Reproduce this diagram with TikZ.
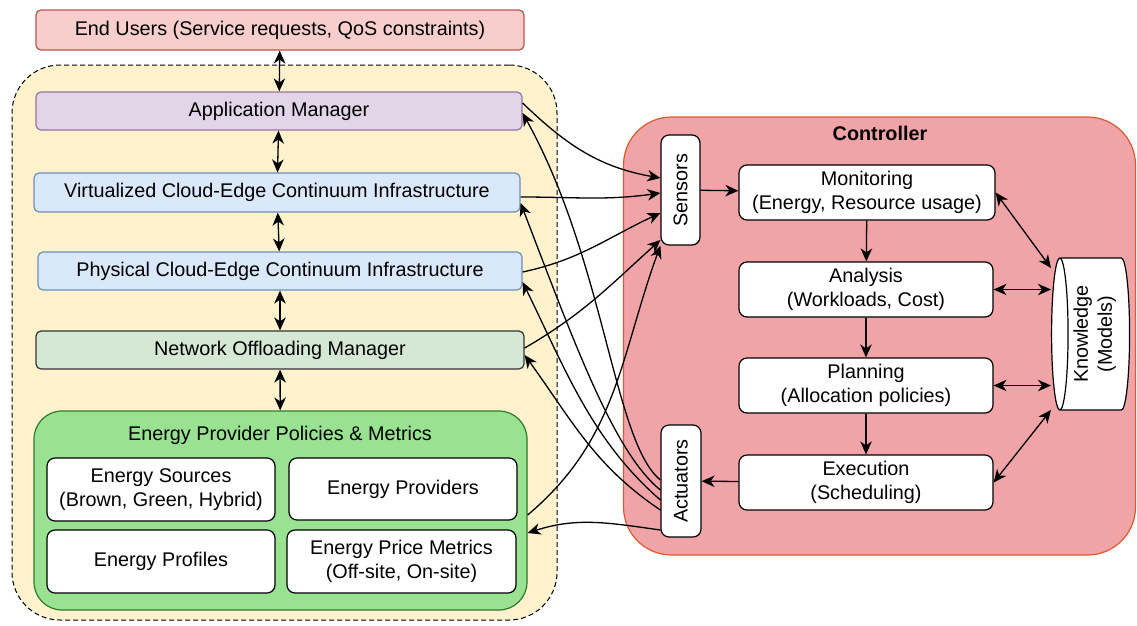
\documentclass[tikz,border=0pt]{standalone}
\usepackage{fontspec}
\setmainfont{Liberation Sans}
\usepackage{graphicx}
\usetikzlibrary{arrows.meta,shapes.geometric}
\definecolor{usrfill}{HTML}{F8CECC}
\definecolor{usrline}{HTML}{B85450}
\definecolor{appfill}{HTML}{E1D5E7}
\definecolor{appline}{HTML}{9673A6}
\definecolor{inffill}{HTML}{DAE8FC}
\definecolor{infline}{HTML}{6C8EBF}
\definecolor{netfill}{HTML}{D5E8D4}
\definecolor{netline}{HTML}{333333}
\definecolor{layfill}{HTML}{FFF2CC}
\definecolor{engfill}{HTML}{98E292}
\definecolor{engline}{HTML}{2D7A2A}
\definecolor{ctlfill}{HTML}{F0A4A8}
\definecolor{ctlline}{HTML}{DE5A2E}

\begin{document}
\begin{tikzpicture}[x=1pt,y=1pt,
    every node/.style={font=\fontsize{19.8}{24}\selectfont},
    box/.style={draw,rounded corners=5pt,line width=1.2pt,align=center,inner sep=0pt},
    wbox/.style={box,fill=white,draw=black,rounded corners=8pt},
    arr/.style={line width=1.3pt,-{Stealth[length=13pt,width=11.5pt,inset=4pt]}},
    dbl/.style={line width=1.3pt,{Stealth[length=13pt,width=11.5pt,inset=4pt]}-{Stealth[length=13pt,width=11.5pt,inset=4pt]}}]
    \useasboundingbox (0,0) rectangle (1137,-625);

    \node[draw,dashed,dash pattern=on 5pt off 3pt,line width=1pt,fill=layfill,rounded corners=48pt,minimum width=545,minimum height=555] (layer) at (284.5,-342.5) {};
    \node[draw=ctlline,fill=ctlfill,line width=1.2pt,rounded corners=48pt,minimum width=512,minimum height=438] (ctrl) at (879.5,-336) {};
    \node (ctitle) at (880,-133) {\bfseries Controller};

    \node[box,fill=usrfill,draw=usrline,minimum width=488,minimum height=40] (users) at (280,-30) {End Users (Service requests, QoS constraints)};
    \node[box,fill=appfill,draw=appline,minimum width=486,minimum height=38] (app) at (279,-111) {Application Manager};
    \node[box,fill=inffill,draw=infline,minimum width=486,minimum height=39] (virt) at (277,-192.5) {Virtualized Cloud-Edge Continuum Infrastructure};
    \node[box,fill=inffill,draw=infline,minimum width=484,minimum height=38] (phys) at (280,-271) {Physical Cloud-Edge Continuum Infrastructure};
    \node[box,fill=netfill,draw=netline,minimum width=488,minimum height=38] (net) at (280,-350) {Network Offloading Manager};

    \node[draw=engline,fill=engfill,line width=1.2pt,rounded corners=28pt,minimum width=493,minimum height=199] (eng) at (280.5,-510.5) {};
    \node (etitle) at (280,-435) {Energy Provider Policies \& Metrics};
    \node[wbox,minimum width=228,minimum height=63] (src) at (161,-489.5) {Energy Sources\\(Brown, Green, Hybrid)};
    \node[wbox,minimum width=228,minimum height=62] (prov) at (403,-489) {Energy Providers};
    \node[wbox,minimum width=228,minimum height=63] (prof) at (161,-561.5) {Energy Profiles};
    \node[wbox,minimum width=229,minimum height=63] (price) at (401.5,-561.5) {Energy Price Metrics\\(Off-site, On-site)};

    \node[wbox,minimum width=39,minimum height=110] (sens) at (680.5,-190) {\rotatebox{90}{Sensors}};
    \node[wbox,minimum width=40,minimum height=112] (act) at (681,-481) {\rotatebox{90}{Actuators}};
    \node[wbox,minimum width=256,minimum height=55] (mon) at (867,-192.5) {Monitoring\\(Energy, Resource usage)};
    \node[wbox,minimum width=254,minimum height=55] (ana) at (866,-289.5) {Analysis\\(Workloads, Cost)};
    \node[wbox,minimum width=254,minimum height=55] (plan) at (866,-385.5) {Planning\\(Allocation policies)};
    \node[wbox,minimum width=254,minimum height=55] (exe) at (866,-482.5) {Execution\\(Scheduling)};
    \node[cylinder,shape border rotate=180,draw,fill=white,line width=1.2pt,aspect=0.15,minimum width=152,minimum height=78,inner sep=0pt] (know) at (1095,-334) {\rotatebox{90}{\begin{tabular}{c}Knowledge\\(Models)\end{tabular}}};

    \path[dbl]
    (users) edge (app)
    (app) edge (virt)
    (virt) edge (phys)
    (phys) edge (net)
    (net) edge (eng)
    (mon.east) edge ([yshift=66pt]know.west)
    (ana.east) edge (ana.east -| know.west)
    (plan.east) edge (plan.east -| know.west)
    (exe.east) edge ([yshift=-76pt]know.west);

    \path[arr]
    (sens) edge (mon)
    (mon) edge (ana)
    (ana) edge (plan)
    (plan) edge (exe)
    (exe) edge (act)
    ([yshift=8pt]app.east) edge [out=-44,in=170] ([yshift=12pt]sens.west)
    ([yshift=-4.5pt]virt.east) edge [out=0,in=188] ([yshift=-3pt]sens.west)
    ([yshift=-1pt]phys.east) edge [out=12,in=205] ([yshift=-23pt]sens.west)
    ([yshift=2pt]net.east) edge [out=30,in=222] ([yshift=-50pt]sens.west)
    ([yshift=-4.5pt]eng.east) edge [out=40,in=250] (sens.south west)
    ([yshift=1pt]act.west) edge [out=141,in=-61,out distance=60,in distance=170] ([yshift=-2pt]app.east)
    ([yshift=-9pt]act.west) edge [out=141,in=-69,out distance=60,in distance=150] ([yshift=-10.5pt]virt.east)
    ([yshift=-19pt]act.west) edge [out=139,in=-64,out distance=90,in distance=100] ([yshift=-11pt]phys.east)
    ([yshift=-29pt]act.west) edge [out=146,in=-54] ([yshift=-5pt]net.east)
    ([yshift=-49pt]act.west) edge [out=172,in=18] ([yshift=-22.5pt]eng.east);
\end{tikzpicture}
\end{document}
